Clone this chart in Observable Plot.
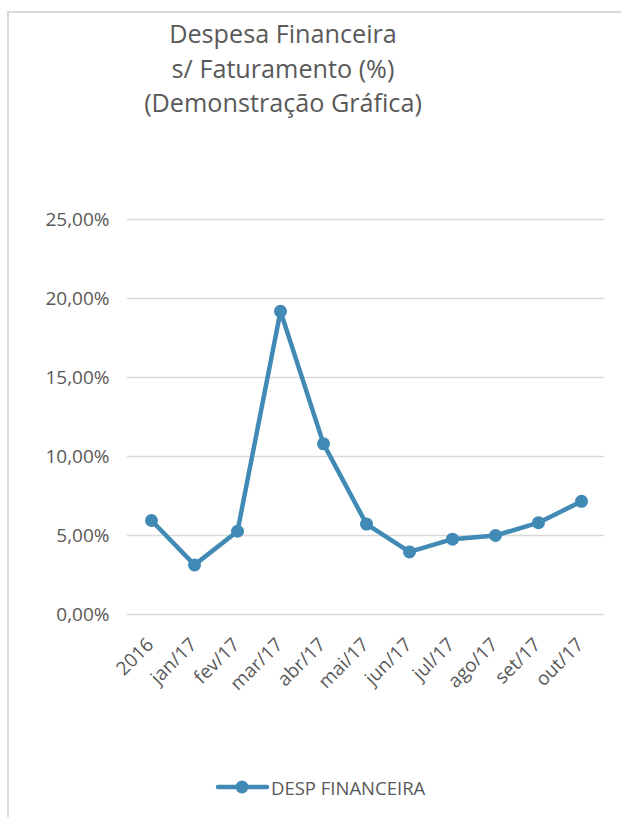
<!DOCTYPE html>
<html>
<head>
<meta charset="utf-8">
<script src="https://cdn.jsdelivr.net/npm/d3@7"></script>
<script src="https://cdn.jsdelivr.net/npm/@observablehq/plot@0.6"></script>
<style>
  html, body { margin: 0; padding: 0; background: #fff; }
  body { width: 621px; height: 817px; position: relative; overflow: hidden; font-family: "Open Sans", sans-serif; color: #595959; }
  #frame { position: absolute; left: 7px; top: 11px; width: 700px; height: 900px; border-left: 2px solid #d9d9d9; border-top: 2px solid #d9d9d9; }
  #title { position: absolute; left: 63px; width: 440px; top: 16px; text-align: center; font-size: 25.2px; line-height: 34.5px; color: #595959; }
  #chart { position: absolute; left: 0; top: 200px; }
  #legend { position: absolute; left: 214px; top: 774px; display: flex; align-items: center; font-size: 18.5px; color: #595959; }
</style>
</head>
<body>
<div id="frame"></div>
<div id="title">Despesa Financeira<br>s/ Faturamento (%)<br>(Demonstração Gráfica)</div>
<div id="chart"></div>
<div id="legend"><svg width="56" height="26"><line x1="4" x2="53" y1="13" y2="13" stroke="#418AB5" stroke-width="4.5" stroke-linecap="round"></line><circle cx="28" cy="13" r="6.5" fill="#418AB5"></circle></svg><span style="margin-left:1px">DESP FINANCEIRA</span></div>
<script>
const categories = ["2016", "jan/17", "fev/17", "mar/17", "abr/17", "mai/17", "jun/17", "jul/17", "ago/17", "set/17", "out/17"];
const despFinanceira = [5.95, 3.14, 5.27, 19.19, 10.80, 5.72, 3.96, 4.77, 5.00, 5.81, 7.16];
const yTicks = [0, 5, 10, 15, 20, 25];
const seriesName = "DESP FINANCEIRA";

const data = categories.map((c, i) => ({ cat: c, value: despFinanceira[i] }));
const color = "#418AB5";

const chart = Plot.plot({
  width: 621,
  height: 540,
  marginLeft: 127,
  marginRight: 17,
  marginTop: 19,
  marginBottom: 126,
  style: { fontFamily: "'Open Sans', sans-serif", fontSize: "19px", color: "#595959", background: "transparent" },
  x: { type: "point", domain: categories, padding: 0.5, label: null, axis: null },
  y: { domain: [0, 25], ticks: yTicks, label: null },
  marks: [
    Plot.gridY(yTicks, { stroke: "#d9d9d9", strokeOpacity: 1, strokeWidth: 1.5 }),
    Plot.axisY(yTicks, { tickSize: 0, tickPadding: 18, tickFormat: d => d.toFixed(2).replace(".", ",") + "%", fill: "#595959" }),
    Plot.text(categories, { x: d => d, y: 0, dy: 27, dx: -1, rotate: -45, textAnchor: "end", lineAnchor: "middle", fill: "#595959" }),
    Plot.line(data, { x: "cat", y: "value", stroke: color, strokeWidth: 4.5 }),
    Plot.dot(data, { x: "cat", y: "value", fill: color, r: 6.5 })
  ]
});
document.getElementById("chart").appendChild(chart);
</script>
</body>
</html>
